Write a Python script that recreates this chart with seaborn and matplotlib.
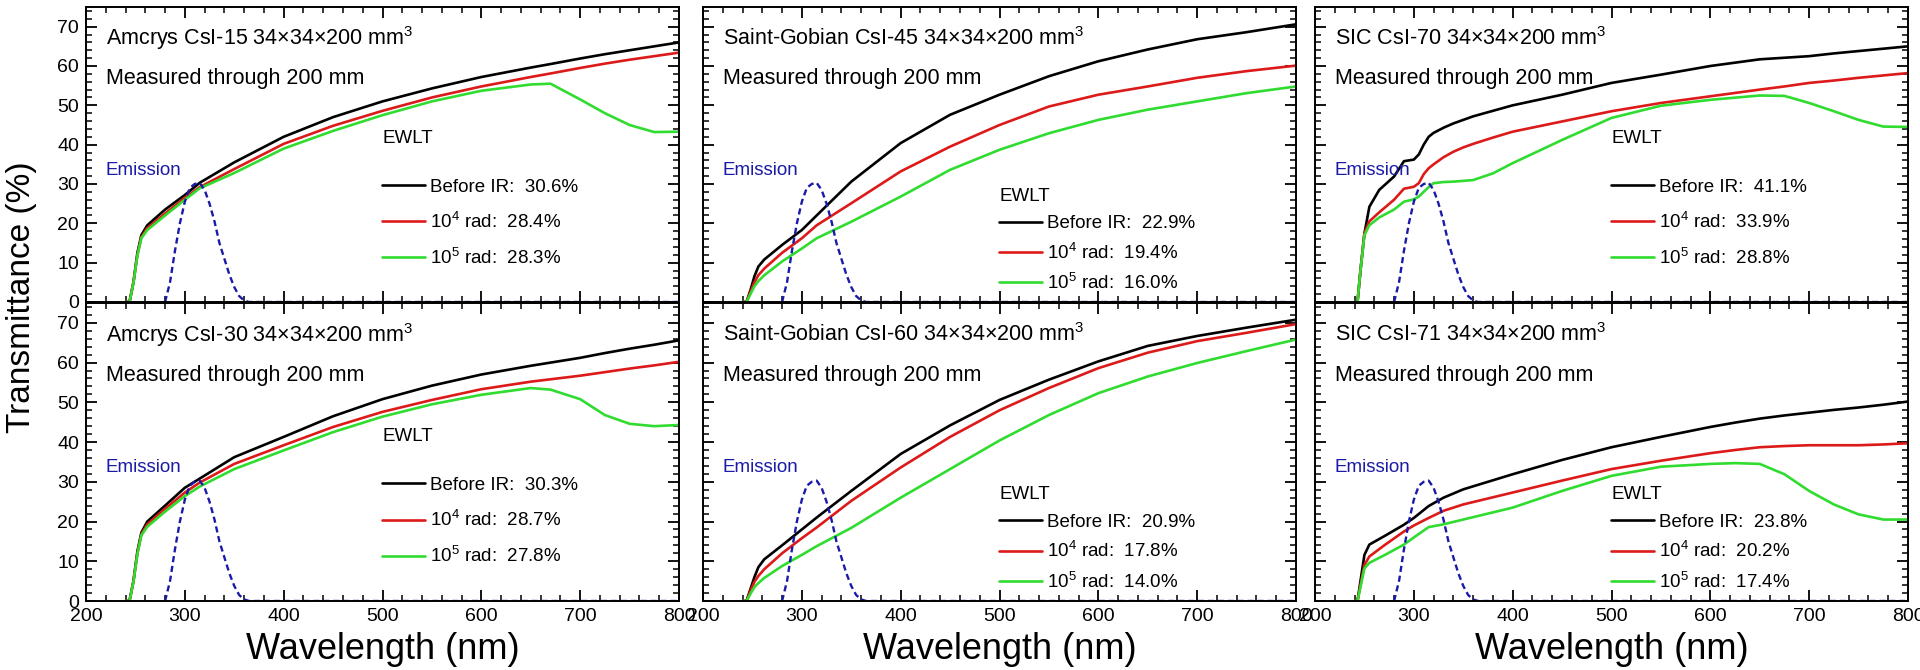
import matplotlib
matplotlib.use("Agg")
import matplotlib.pyplot as plt
from matplotlib.ticker import MultipleLocator
import seaborn as sns

# --- data (wavelength in nm, transmittance in %) ---
wl_amcrys = [240, 244, 248, 252, 256, 262, 280, 300, 315, 350, 400, 450, 500, 550,
             600, 650, 670, 700, 725, 750, 775, 800]
black_csi15 = [0, 0, 5, 12.5, 17, 19.5, 23.5, 27.2, 30.3, 35.5, 42, 47, 51, 54.3,
               57.2, 59.6, 60.5, 61.9, 63, 64, 65, 66]
red_csi15 = [0, 0, 5, 12, 16.5, 18.8, 22.5, 26.5, 29.2, 33.8, 40.2, 44.8, 48.6, 52,
             54.8, 57.2, 58.1, 59.5, 60.6, 61.6, 62.5, 63.4]
green_csi15 = [0, 0, 4.8, 11.8, 16.2, 18.3, 22, 26, 28.9, 32.8, 39, 43.5, 47.5, 51,
               53.7, 55.3, 55.5, 51.5, 48, 45, 43.2, 43.3]
black_csi30 = [0, 0, 5, 12.5, 17.2, 20, 24, 28.5, 30.8, 36.2, 41.3, 46.5, 50.8, 54.2,
               57, 59.2, 60, 61.2, 62.4, 63.5, 64.5, 65.6]
red_csi30 = [0, 0, 5, 12, 16.8, 19.3, 23.2, 27.3, 29.8, 34.5, 39.2, 43.8, 47.6, 50.6,
             53.3, 55.2, 55.8, 56.7, 57.6, 58.5, 59.3, 60.2]
green_csi30 = [0, 0, 4.8, 11.8, 16.5, 18.7, 22.5, 26.4, 28.8, 33.2, 37.9, 42.5, 46.4, 49.5,
               51.9, 53.6, 53.2, 50.8, 46.8, 44.6, 44, 44.3]

wl_sg = [240, 244, 248, 252, 256, 262, 280, 300, 315, 350, 400, 450, 500, 550,
         600, 650, 700, 750, 800]
black_csi45 = [0, 0, 3, 6.5, 9, 10.8, 14.5, 18.3, 22, 30.6, 40.4, 47.6, 52.7, 57.4,
               61.2, 64.2, 66.8, 68.6, 70.6]
red_csi45 = [0, 0, 2.5, 5, 6.8, 8.5, 12.5, 16.2, 19.5, 25.1, 33.2, 39.5, 45, 49.7,
             52.7, 54.8, 57, 58.7, 60.1]
green_csi45 = [0, 0, 2, 4, 5.3, 6.8, 10.3, 13.6, 16.2, 20.4, 26.8, 33.6, 38.7, 42.9,
               46.3, 48.9, 51, 53.1, 54.8]
black_csi60 = [0, 0, 3, 6, 8.5, 10.5, 14, 18, 21, 27.7, 37, 44.2, 50.6, 55.7,
               60.3, 64.2, 66.7, 68.8, 70.8]
red_csi60 = [0, 0, 2.5, 4.8, 6.3, 8, 12, 15.8, 18.5, 25.2, 33.6, 41.3, 48, 53.6,
             58.6, 62.5, 65.4, 67.5, 69.7]
green_csi60 = [0, 0, 1.8, 3.5, 4.5, 5.8, 8.8, 11.6, 13.8, 18.4, 26, 33.2, 40.4, 46.8,
               52.3, 56.5, 59.9, 62.9, 65.8]

wl_sic70 = [240, 243, 246, 250, 255, 265, 280, 290, 300, 305, 310, 315, 320, 330, 340,
            350, 360, 380, 400, 450, 500, 550, 600, 650, 675, 700, 725, 750, 775, 800]
black_csi70 = [0, 0, 8, 17.4, 24.2, 28.5, 31.9, 35.8, 36.2, 37.5, 40, 42, 43, 44.3, 45.4,
               46.3, 47.2, 48.6, 50, 52.7, 55.7, 57.8, 60, 61.7, 62.1, 62.5, 63.2, 63.8, 64.4, 65]
red_csi70 = [0, 0, 8, 17.5, 20.5, 22.8, 26, 28.8, 29.3, 30.2, 32.5, 34, 35, 36.8, 38.2,
             39.3, 40.2, 41.8, 43.3, 45.9, 48.5, 50.6, 52.3, 54, 54.8, 55.7, 56.3, 57, 57.6, 58.2]
green_csi70 = [0, 0, 8, 17, 19.5, 21.5, 23.5, 25.5, 26.1, 26.8, 28, 29.2, 30.2, 30.5, 30.6,
               30.8, 31, 32.7, 35.3, 41.2, 46.8, 49.9, 51.4, 52.5, 52.4, 50.6, 48.5, 46.3, 44.6, 44.5]

wl_sic71 = [240, 243, 246, 250, 255, 270, 290, 300, 315, 330, 350, 400, 450, 500, 550,
            600, 625, 650, 675, 700, 725, 750, 775, 800]
black_csi71 = [0, 0, 5, 11.6, 14.2, 16.3, 19.2, 20.9, 23.9, 26, 28.1, 31.9, 35.5, 38.7, 41.3,
               43.8, 44.9, 45.9, 46.7, 47.4, 48.1, 48.7, 49.4, 50.2]
red_csi71 = [0, 0, 4, 9.1, 11.2, 14, 17.5, 19, 20.9, 22.7, 24.3, 27.3, 30.3, 33.2, 35.3,
             37.2, 38, 38.7, 39, 39.2, 39.2, 39.2, 39.4, 39.7]
green_csi71 = [0, 0, 3.5, 8.2, 9.6, 11.5, 14.2, 16, 18.6, 19.3, 20.5, 23.5, 27.7, 31.5, 33.8,
               34.5, 34.7, 34.5, 31.9, 27.7, 24.3, 21.8, 20.5, 20.5]

# CsI emission spectrum (arbitrary scale, same in all panels)
wl_emission = [280, 285, 290, 295, 300, 305, 310, 315, 320, 325, 330, 335, 340, 345,
               350, 355, 360, 365, 800]
emission = [0, 5, 13, 20, 25.5, 29, 30, 30.3, 28.5, 25, 20.5, 15, 11, 7, 3.8, 1.5, 0.4, 0, 0]

titles = ["Amcrys CsI-15", "Saint-Gobian CsI-45", "SIC CsI-70",
          "Amcrys CsI-30", "Saint-Gobian CsI-60", "SIC CsI-71"]
ewlt_before = [30.6, 22.9, 41.1, 30.3, 20.9, 23.8]
ewlt_1e4 = [28.4, 19.4, 33.9, 28.7, 17.8, 20.2]
ewlt_1e5 = [28.3, 16.0, 28.8, 27.8, 14.0, 17.4]

panels = [
    (wl_amcrys, black_csi15, red_csi15, green_csi15),
    (wl_sg, black_csi45, red_csi45, green_csi45),
    (wl_sic70, black_csi70, red_csi70, green_csi70),
    (wl_amcrys, black_csi30, red_csi30, green_csi30),
    (wl_sg, black_csi60, red_csi60, green_csi60),
    (wl_sic71, black_csi71, red_csi71, green_csi71),
]

# --- style ---
sns.set_style("ticks")
plt.rcParams["font.family"] = ["Liberation Sans", "DejaVu Sans"]
plt.rcParams["mathtext.default"] = "regular"
plt.rcParams.update({
    "axes.linewidth": 1.4,
    "xtick.direction": "in", "ytick.direction": "in",
    "xtick.top": True, "ytick.right": True,
    "xtick.major.size": 8, "ytick.major.size": 8,
    "xtick.minor.size": 4, "ytick.minor.size": 4,
    "xtick.major.width": 1.3, "ytick.major.width": 1.3,
    "xtick.minor.width": 1.1, "ytick.minor.width": 1.1,
    "xtick.color": "black", "ytick.color": "black",
    "xtick.labelcolor": "black", "ytick.labelcolor": "black",
    "axes.edgecolor": "black", "axes.labelcolor": "black",
    "text.color": "black",
})

col_colors = ["#000000", "#dd1a1a", "#2fdc2f"]
blue = "#1a1aa8"

fig = plt.figure(figsize=(19.2, 6.7), dpi=100)
W, H = 1920, 670
lefts = [86, 703, 1315]
rows = [(7, 302), (303, 601)]

for i, (wl, black, red, green) in enumerate(panels):
    r, c = divmod(i, 3)
    top, bot = rows[r]
    ax = fig.add_axes([lefts[c] / W, (H - bot) / H, 593 / W, (bot - top) / H])

    labels = [f"Before IR:  {ewlt_before[i]:.1f}%",
              f"10$^4$ rad:  {ewlt_1e4[i]:.1f}%",
              f"10$^5$ rad:  {ewlt_1e5[i]:.1f}%"]
    for vals, col, lab in zip([black, red, green], col_colors, labels):
        sns.lineplot(x=wl, y=vals, ax=ax, color=col, lw=1.9, label=lab,
                     sort=False, estimator=None)
    sns.lineplot(x=wl_emission, y=emission, ax=ax, color=blue, lw=1.7,
                 linestyle=(0, (2.6, 1.6)), sort=False, estimator=None)

    ax.set_xlim(200, 800)
    ax.set_ylim(0, 75)
    ax.xaxis.set_major_locator(MultipleLocator(100))
    ax.xaxis.set_minor_locator(MultipleLocator(20))
    ax.yaxis.set_major_locator(MultipleLocator(10))
    ax.yaxis.set_minor_locator(MultipleLocator(2))
    ax.tick_params(which="both", top=True, right=True, labelsize=14, pad=5)
    if c != 0:
        ax.tick_params(labelleft=False)
    if r == 0:
        ax.tick_params(labelbottom=False)
        ax.set_xlabel("")
    else:
        ax.set_xlabel("Wavelength (nm)", fontsize=26, labelpad=5)
    ax.set_ylabel("")

    ax.text(220, 67, f"{titles[i]} 34×34×200 mm$^3$", fontsize=15.5, va="center")
    ax.text(220, 56.8, "Measured through 200 mm", fontsize=15.5, va="center")
    ax.text(220, 33.5, "Emission", fontsize=13.5, color=blue, va="center")

    # legend block: upper position for CsI-15/30/70, lower for the others
    low = c == 1 or i == 5
    title_y, mid_y, spacing = (26.7, 12.2, 0.55) if low else (41.5, 20.0, 0.85)
    ax.text(500, title_y, "EWLT", fontsize=13.5, va="center")
    ax.legend(loc="center left", bbox_to_anchor=(499, mid_y),
              bbox_transform=ax.transData, frameon=False, fontsize=13.5,
              handlelength=2.3, handletextpad=0.3, labelspacing=spacing,
              borderpad=0, borderaxespad=0)

fig.text(22 / W, 1 - 297 / H, "Transmittance (%)", rotation=90, fontsize=24,
         ha="center", va="center")

fig.savefig("out.png", dpi=100)
